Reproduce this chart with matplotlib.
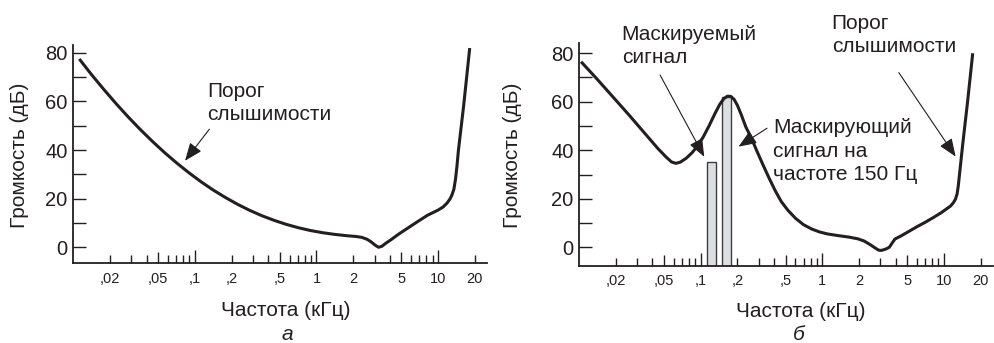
import numpy as np
import matplotlib
matplotlib.use("Agg")
import matplotlib.pyplot as plt
from matplotlib.ticker import FixedLocator, FixedFormatter, NullLocator

plt.rcParams['font.family'] = ['Liberation Sans', 'DejaVu Sans']

INK = '#231f20'
W, H = 995, 343

# Threshold of hearing in quiet (panel а): frequency in kHz, level in dB
freq_a = [0.0112, 0.0141, 0.0178, 0.0224, 0.0282, 0.0355, 0.0447, 0.0562,
          0.0708, 0.0891, 0.112, 0.141, 0.178, 0.224, 0.282, 0.355, 0.447,
          0.562, 0.708, 0.891, 1.12, 1.41, 1.78, 2.1, 2.35, 2.6, 2.8, 3.05,
          3.24, 3.45, 3.7, 4.1, 4.5, 5.0, 5.6, 6.3, 7.0, 8.2, 10.0, 11.0,
          11.8, 12.5, 13.0, 13.5, 13.9, 14.3, 14.7, 16.2, 18.2]
level_a = [77.5, 71.1, 65.0, 59.2, 53.7, 48.5, 43.6, 39.0,
           34.7, 30.7, 27.0, 23.6, 20.5, 17.7, 15.2, 13.0, 11.1,
           9.45, 8.05, 6.9, 6.0, 5.3, 4.75, 4.45, 4.1, 3.3, 2.3, 0.8,
           0.0, 0.4, 1.6, 3.1, 4.6, 6.2, 7.8, 9.5, 11.0, 13.2, 15.3, 16.6,
           18.1, 19.8, 21.5, 24.0, 28.0, 33.5, 40.0, 58.0, 82.0]

# Threshold in presence of a 150 Hz masker (panel б)
freq_b = [0.0104, 0.0141, 0.019, 0.0257, 0.0347, 0.0447, 0.052, 0.0575,
          0.0625, 0.068, 0.076, 0.085, 0.095, 0.105, 0.117, 0.13, 0.143,
          0.155, 0.166, 0.177, 0.188, 0.2, 0.215, 0.235, 0.26, 0.29, 0.325,
          0.365, 0.41, 0.46, 0.52, 0.6, 0.7, 0.82, 0.95, 1.1, 1.35, 1.65,
          1.95, 2.2, 2.45, 2.7, 2.9, 3.05, 3.3, 3.55, 3.75, 3.95, 4.4, 5.0,
          6.0, 7.0, 8.25, 9.5, 10.6, 11.3, 11.9, 12.4, 12.8, 13.1, 14.2,
          15.6, 17.2]
level_b = [76.5, 69.3, 62.0, 54.6, 47.0, 40.6, 37.2, 35.2,
           34.6, 35.1, 36.7, 39.0, 42.0, 45.5, 50.0, 54.8, 58.8,
           61.3, 62.3, 62.2, 61.0, 58.6, 54.8, 49.6, 45.2, 39.6, 34.0,
           28.5, 23.3, 18.8, 15.3, 12.0, 9.3, 7.5, 6.3, 5.5, 4.8, 4.2,
           3.5, 2.6, 1.2, -0.2, -1.2, -1.3, -0.8, 0.0, 1.8, 3.4, 4.6, 6.2,
           8.5, 10.3, 12.4, 14.3, 16.0, 17.0, 18.3, 19.8, 22.0, 25.5, 42.0,
           60.0, 80.0]

# Tones: masked signal and 150 Hz masker (left/right edges in kHz, level in dB)
tone_left = [0.1135, 0.150]
tone_right = [0.133, 0.176]
tone_level = [35, 62]

# Frequency axis ticks and labels
x_ticks = [0.02, 0.03, 0.04, 0.05, 0.06, 0.07, 0.08, 0.09, 0.1,
           0.2, 0.3, 0.4, 0.5, 0.6, 0.7, 0.8, 0.9, 1,
           2, 3, 4, 5, 6, 7, 8, 9, 10, 20]
x_labels = {0.02: ',02', 0.05: ',05', 0.1: ',1', 0.2: ',2', 0.5: ',5',
            1: '1', 2: '2', 5: '5', 10: '10', 20: '20'}
y_major = [0, 20, 40, 60, 80]
y_minor = [10, 30, 50, 70]


def fx(px):
    return px / W


def fy(py):
    return (H - py) / H


def style_axes(ax, ylim, xpad):
    ax.set_xscale('log')
    ax.set_xlim(0.01, 25.1)
    ax.set_ylim(*ylim)
    for side in ('top', 'right'):
        ax.spines[side].set_visible(False)
    for side in ('left', 'bottom'):
        ax.spines[side].set_linewidth(1.3)
        ax.spines[side].set_color(INK)
    ax.xaxis.set_major_locator(FixedLocator(x_ticks))
    ax.xaxis.set_major_formatter(FixedFormatter([x_labels.get(t, '') for t in x_ticks]))
    ax.xaxis.set_minor_locator(NullLocator())
    ax.tick_params(axis='x', which='major', direction='in', length=5.8,
                   width=1.0, color=INK, labelcolor=INK, labelsize=10.5, pad=xpad)
    ax.yaxis.set_major_locator(FixedLocator(y_major))
    ax.yaxis.set_minor_locator(FixedLocator(y_minor))
    ax.tick_params(axis='y', which='both', direction='in', length=9.4,
                   width=1.0, color=INK, labelcolor=INK, labelsize=14.5, pad=4)
    # decade ticks are the longest, the 5-multiples a little shorter
    for t, tick in zip(x_ticks, ax.xaxis.get_major_ticks()):
        lead = round(t / 10 ** np.floor(np.log10(t) + 1e-9), 6)
        if lead == 1:
            tick.tick1line.set_markersize(9.5)
        elif lead == 5:
            tick.tick1line.set_markersize(7.6)


fig = plt.figure(figsize=(W / 100, H / 100), dpi=100)

ax_a = fig.add_axes([fx(73.3), fy(263.3), fx(413.4), (263.3 - 45) / H])
ax_b = fig.add_axes([fx(579), fy(265.7), fx(413.7), (265.7 - 43.3) / H])

style_axes(ax_a, (-6.6, 83.25), 6.6)
style_axes(ax_b, (-7.6, 84.1), 6.0)

# Panel а
ax_a.plot(freq_a, level_a, color=INK, lw=2.2, solid_capstyle='butt',
          solid_joinstyle='round', zorder=3)

# Panel б
ybot = ax_b.get_ylim()[0]
widths = [r - l for l, r in zip(tone_left, tone_right)]
heights = [v - ybot for v in tone_level]
ax_b.bar(tone_left, heights, width=widths, bottom=ybot, align='edge',
         color='#dcdee0', edgecolor='#3c3c3c', linewidth=1.0, zorder=2)
ax_b.plot(freq_b, level_b, color=INK, lw=2.2, solid_capstyle='butt',
          solid_joinstyle='round', zorder=3)

arrow = dict(arrowstyle='-|>,head_length=1.1,head_width=0.44',
             mutation_scale=10, color=INK, lw=0.8, shrinkA=0, shrinkB=0)

ax_a.annotate('', xy=(0.083, 35.6), xytext=(0.1315, 48.6), arrowprops=arrow)
ax_b.annotate('', xy=(0.107, 37.3), xytext=(0.0464, 71.0), arrowprops=arrow)
ax_b.annotate('', xy=(0.2047, 41.5), xytext=(0.351, 49.1), arrowprops=arrow)
ax_b.annotate('', xy=(12.45, 37.4), xytext=(4.25, 72.0), arrowprops=arrow)

txt = dict(color=INK, fontsize=15, ha='left', va='baseline')


def lines(x, y0, rows, step=23.3):
    for i, s in enumerate(rows):
        fig.text(fx(x), fy(y0 + i * step), s, **txt)


lines(207, 96.7, ['Порог', 'слышимости'])
lines(621.7, 39.5, ['Маскируемый', 'сигнал'])
lines(831.7, 29.0, ['Порог', 'слышимости'])
lines(773.3, 133.3, ['Маскирующий', 'сигнал на', 'частоте 150 Гц'])

# Axis titles and panel letters
lab = dict(color=INK, fontsize=15)
fig.text(fx(286), fy(316), 'Частота (кГц)', ha='center', va='baseline', **lab)
fig.text(fx(801), fy(317), 'Частота (кГц)', ha='center', va='baseline', **lab)
fig.text(fx(20), fy(155), 'Громкость (дБ)', ha='center', va='center',
         rotation=90, **lab)
fig.text(fx(513), fy(155), 'Громкость (дБ)', ha='center', va='center',
         rotation=90, **lab)
fig.text(fx(287), fy(340), 'а', ha='center', va='baseline', style='italic', **lab)
fig.text(fx(799), fy(340), 'б', ha='center', va='baseline', style='italic', **lab)

fig.savefig('out.png', dpi=100, facecolor='white')
